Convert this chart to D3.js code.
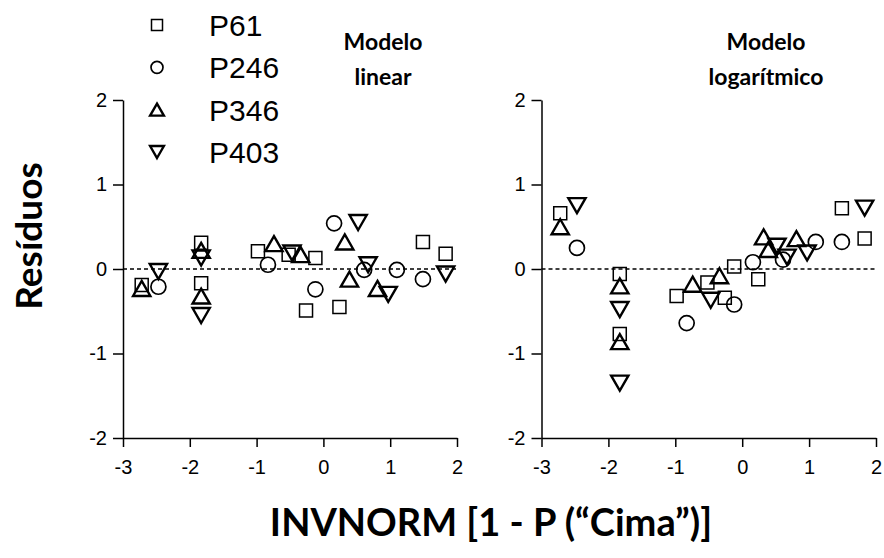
<!DOCTYPE html>
<html>
<head>
<meta charset="utf-8">
<script src="https://cdn.jsdelivr.net/npm/d3@7"></script>
<style>
body{margin:0;background:#fff;}
.tick text{font-family:"Liberation Sans",Arial,sans-serif;font-size:20px;fill:#000;}
</style>
</head>
<body>
<div class="residual-plot"></div>
<script>
// x = INVNORM[1 - P("Cima")], shared by both models
const series=['P61','P246','P346','P403'];

const x61=[-2.72,-1.83,-1.83,-0.98,-0.52,-0.26,-0.12,0.24,1.49,1.83];
const lin61=[-0.19,0.31,-0.17,0.21,0.17,-0.49,0.13,-0.45,0.32,0.18];
const log61=[0.66,-0.06,-0.77,-0.32,-0.16,-0.34,0.03,-0.12,0.72,0.36];

const x246=[-2.47,-0.83,-0.12,0.16,0.61,1.10,1.49];
const lin246=[-0.21,0.05,-0.24,0.54,-0.01,-0.01,-0.12];
const log246=[0.25,-0.64,-0.42,0.08,0.11,0.32,0.32];

const x346=[-2.72,-1.83,-1.83,-0.74,-0.34,0.32,0.39,0.81];
const lin346=[-0.23,0.22,-0.32,0.30,0.17,0.32,-0.12,-0.23];
const log346=[0.50,-0.20,-0.86,-0.18,-0.08,0.38,0.23,0.36];

const x403=[-2.47,-1.83,-1.83,-0.47,0.52,0.67,0.97,1.83];
const lin403=[-0.03,0.13,-0.55,0.19,0.55,0.05,-0.30,-0.06];
const log403=[0.75,-0.48,-1.35,-0.37,0.27,0.14,0.19,0.72];

const xTicks=[-3,-2,-1,0,1,2];
const yTicks=[-2,-1,0,1,2];

const width=884;
const height=558;

const svg=d3.select('.residual-plot')
	.append('svg')
	.attr('width',width)
	.attr('height',height)

const y=d3.scaleLinear().domain([-2,2]).range([438,100]);

// marker shapes, drawn around (0,0)
function shape(name,s){
	if(name==='P61'){
		return 'M'+(-s/2)+','+(-s/2)+'h'+s+'v'+s+'h'+(-s)+'Z'
	} else if(name==='P246'){
		const r=s/2;
		return 'M'+r+',0A'+r+','+r+' 0 1,1 '+(-r)+',0A'+r+','+r+' 0 1,1 '+r+',0Z'
	} else if(name==='P346'){
		const w=s*1.15, h=s;
		return 'M0,'+(-h/2)+'L'+(w/2)+','+(h/2)+'L'+(-w/2)+','+(h/2)+'Z'
	} else {
		const w=s*1.15, h=s;
		return 'M0,'+(h/2)+'L'+(w/2)+','+(-h/2)+'L'+(-w/2)+','+(-h/2)+'Z'
	}
}
function strokeW(name){
	if(name==='P346'||name==='P403') return 2.4
	if(name==='P246') return 1.7
	return 1.5
}

function renderPanel(x0,x1,groups,title){
	const x=d3.scaleLinear().domain([-3,2]).range([x0,x1]);
	const g=svg.append('g');

	g.append('g')
		.attr('transform','translate(0,'+y(-2)+')')
		.call(d3.axisBottom(x).tickValues(xTicks).tickSize(9).tickSizeOuter(0).tickPadding(13).tickFormat(d3.format('d')))
	g.append('g')
		.attr('transform','translate('+x0+',0)')
		.call(d3.axisLeft(y).tickValues(yTicks).tickSize(10).tickSizeOuter(0).tickPadding(6).tickFormat(d3.format('d')))
	g.selectAll('.domain, .tick line')
		.attr('stroke','#000')
		.attr('stroke-width',1.5)
	g.selectAll('.tick text').text(function(d){return d<0?'-'+Math.abs(d):d})

	g.append('line')
		.attr('x1',x(-3)).attr('x2',x(2))
		.attr('y1',y(0)).attr('y2',y(0))
		.attr('stroke','#000')
		.attr('stroke-width',1.5)
		.attr('stroke-dasharray','4,3')

	groups.forEach(function(grp){
		const pts=grp.xs.map(function(v,i){return {x:v,y:grp.ys[i]}});
		g.selectAll(null)
			.data(pts)
			.enter()
			.append('path')
			.attr('transform',function(d){return 'translate('+x(d.x)+','+y(d.y)+')'})
			.attr('d',shape(grp.name,grp.name==='P61'?13:15))
			.attr('fill','none')
			.attr('stroke','#000')
			.attr('stroke-width',strokeW(grp.name))
	})

	const t=g.append('text')
		.attr('text-anchor','middle')
		.attr('font-family','Lato, "Open Sans", sans-serif')
		.attr('font-weight','bold')
		.attr('font-size',23)
	t.append('tspan').attr('x',title.cx).attr('y',50).text(title.lines[0])
	t.append('tspan').attr('x',title.cx).attr('y',85).text(title.lines[1])
}

renderPanel(123,457,[
	{name:'P61',xs:x61,ys:lin61},
	{name:'P246',xs:x246,ys:lin246},
	{name:'P346',xs:x346,ys:lin346},
	{name:'P403',xs:x403,ys:lin403}
],{cx:383,lines:['Modelo','linear']})

renderPanel(541.5,876,[
	{name:'P61',xs:x61,ys:log61},
	{name:'P246',xs:x246,ys:log246},
	{name:'P346',xs:x346,ys:log346},
	{name:'P403',xs:x403,ys:log403}
],{cx:766,lines:['Modelo','logarítmico']})

// legend
const legY=d3.scalePoint().domain(series).range([25,152]);
const leg=svg.selectAll('.leg')
	.data(series)
	.enter()
	.append('g')
	.attr('transform',function(d){return 'translate(157,'+legY(d)+')'})
leg.append('path')
	.attr('d',function(d){return shape(d,d==='P61'?11:12)})
	.attr('fill','none')
	.attr('stroke','#000')
	.attr('stroke-width',function(d){return strokeW(d)})
leg.append('text')
	.attr('x',52)
	.attr('y',11)
	.attr('font-family','"Liberation Sans", Arial, sans-serif')
	.attr('font-size',30)
	.text(function(d){return d})

// axis titles
svg.append('text')
	.attr('transform','translate(42,236) rotate(-90)')
	.attr('text-anchor','middle')
	.attr('font-family','Lato, "Open Sans", sans-serif')
	.attr('font-weight','bold')
	.attr('font-size',37)
	.text('Resíduos')

svg.append('text')
	.attr('x',491)
	.attr('y',536)
	.attr('text-anchor','middle')
	.attr('font-family','Lato, "Open Sans", sans-serif')
	.attr('font-weight','bold')
	.attr('font-size',38)
	.text('INVNORM [1 - P (“Cima”)]')
</script>
</body>
</html>
